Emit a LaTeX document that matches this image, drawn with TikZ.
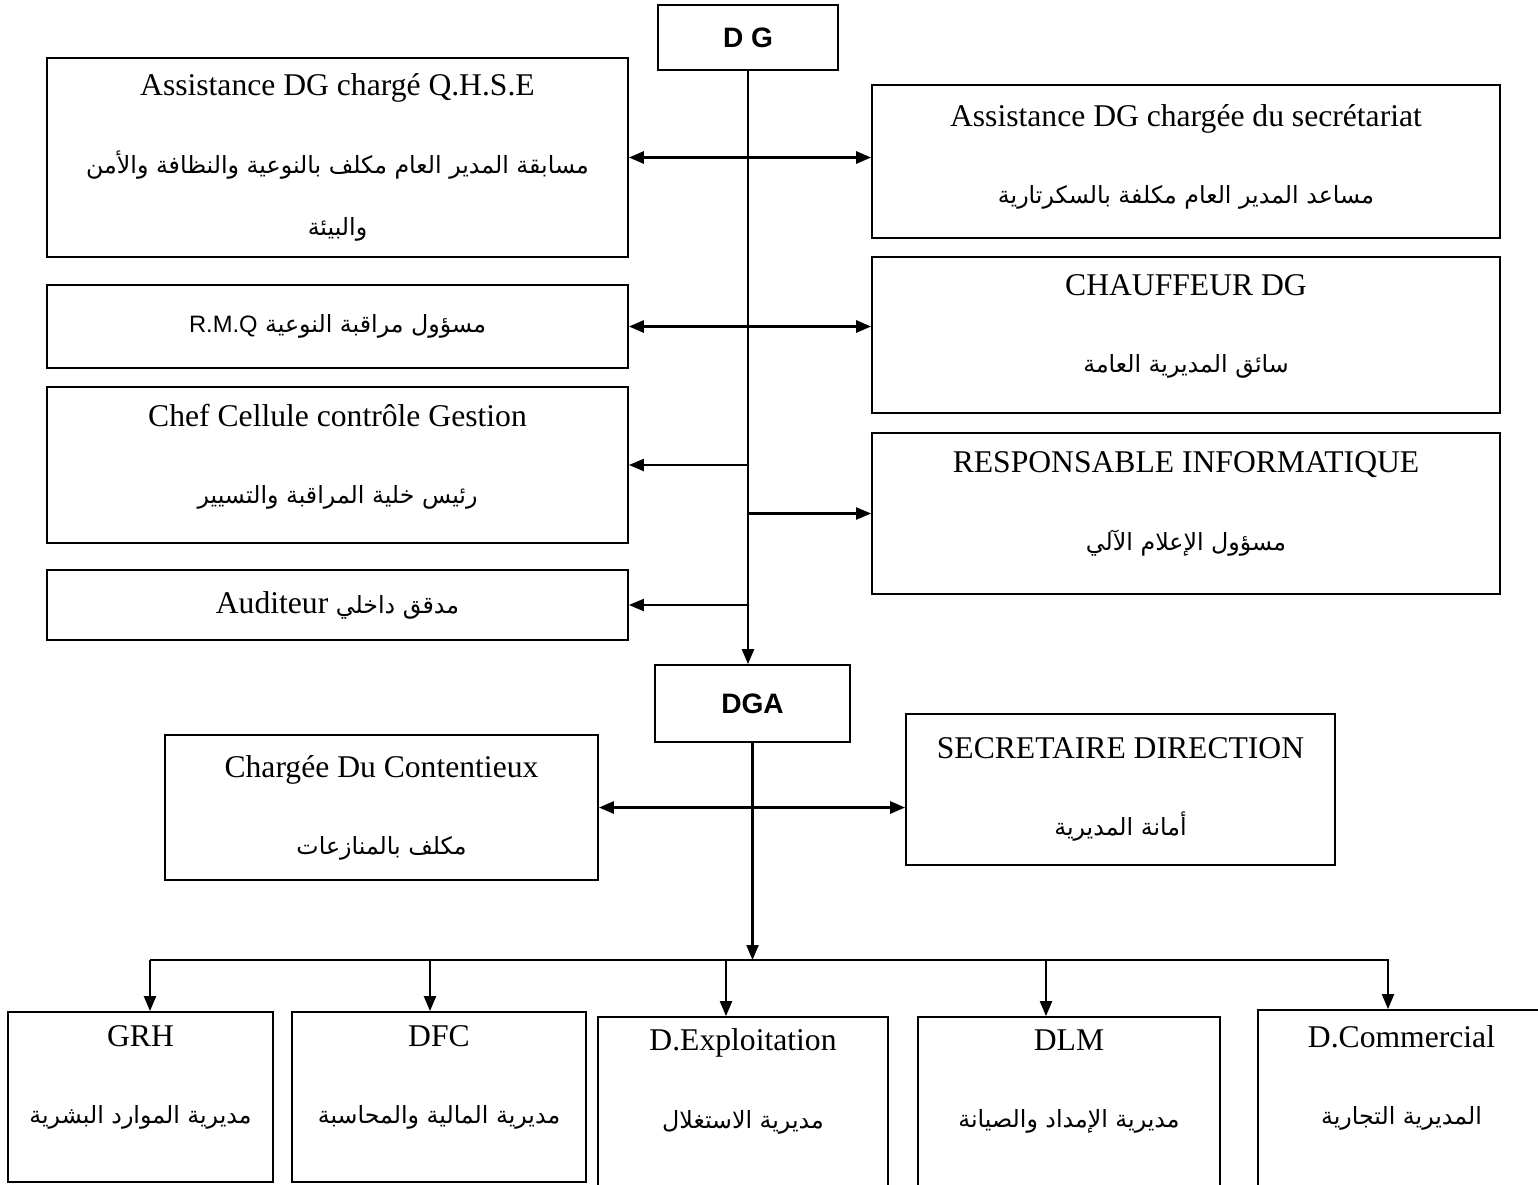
\documentclass[tikz,border=0pt]{standalone}
\usepackage{fontspec}
\setmainfont{Liberation Serif}
\newfontfamily\arfont[Script=Arabic]{DejaVu Sans}
\newfontfamily\hdfont{Liberation Sans}
\TeXXeTstate=1
\usetikzlibrary{arrows.meta}
\newcommand{\artxt}[1]{{\arfont\fontsize{13.5}{22}\selectfont\beginR #1\endR}}

\begin{document}
\begin{tikzpicture}[x=0.02cm, y=-0.02cm,
    box/.style={draw, line width=1pt, inner sep=0pt, align=center, font=\fontsize{18}{22}\selectfont},
    head/.style={box, font=\hdfont\bfseries\fontsize{16}{19}\selectfont},
    sz/.style 2 args={minimum width=#1*0.02cm, minimum height=#2*0.02cm},
    n/.style={-{Triangle[length=0.3cm,width=0.24cm]}, line width=1.2pt},
    d/.style={{Triangle[length=0.3cm,width=0.24cm]}-{Triangle[length=0.3cm,width=0.24cm]}, line width=1.6pt}]
    \useasboundingbox (0,0) rectangle (1538,1184);
    % direction
    \node[head, sz={180}{65}] (dg) at (748,37.5) {D G};
    \node[box, sz={581}{199}] (qhse) at (337.5,157.5) {Assistance DG chargé Q.H.S.E\\[0.77cm] \artxt{مسابقة المدير العام مكلف بالنوعية والنظافة والأمن}\\[0.47cm] \artxt{والبيئة}};
    \node[box, sz={628}{153}, text depth=0.3cm] (secr) at (1186,161.5) {Assistance DG chargée du secrétariat\\[0.77cm] \artxt{مساعد المدير العام مكلفة بالسكرتارية}};
    \node[box, sz={581}{83}] (rmq) at (337.5,326.5) {\artxt{مسؤول مراقبة النوعية \beginL{\hdfont R.M.Q}\endL}};
    \node[box, sz={628}{156}, text depth=0.45cm] (chauf) at (1186,335) {CHAUFFEUR DG\\[0.77cm] \artxt{سائق المديرية العامة}};
    \node[box, sz={581}{156}, text depth=0.45cm] (ccg) at (337.5,465) {Chef Cellule contrôle Gestion\\[0.77cm] \artxt{رئيس خلية المراقبة والتسيير}};
    \node[box, sz={628}{161}, text depth=0.5cm] (info) at (1186,513.5) {RESPONSABLE INFORMATIQUE\\[0.77cm] \artxt{مسؤول الإعلام الآلي}};
    \node[box, sz={581}{70}] (audit) at (337.5,605) {\artxt{مدقق داخلي \beginL{\rmfamily\fontsize{18}{22}\selectfont Auditeur}\endL}};
    \node[head, sz={195}{77}] (dga) at (752.5,703.5) {DGA};
    \node[box, sz={433}{145}] (cont) at (381.5,807.5) {Chargée Du Contentieux\\[0.77cm] \artxt{مكلف بالمنازعات}};
    \node[box, sz={429}{151}] (secd) at (1120.5,789.5) {SECRETAIRE DIRECTION\\[0.77cm] \artxt{أمانة المديرية}};
    % directions
    \node[box, sz={265}{170}, text depth=0.9cm] (grh) at (140.5,1097) {GRH\\[0.77cm] \artxt{مديرية الموارد البشرية}};
    \node[box, sz={294}{170}, text depth=0.9cm] (dfc) at (439,1097) {DFC\\[0.77cm] \artxt{مديرية المالية والمحاسبة}};
    \node[box, sz={290}{183}, text depth=1.2cm] (dexp) at (743,1108.5) {D.Exploitation\\[0.77cm] \artxt{مديرية الاستغلال}};
    \node[box, sz={302}{183}, text depth=1.2cm] (dlm) at (1069,1108.5) {DLM\\[0.77cm] \artxt{مديرية الإمداد والصيانة}};
    \node[box, sz={287}{190}, text depth=1.2cm] (dcom) at (1401.5,1105) {D.Commercial\\[0.77cm] \artxt{المديرية التجارية}};
    \coordinate (b1) at (150,960);
    \coordinate (b2) at (430,960);
    \coordinate (b3) at (726,960);
    \coordinate (b4) at (1046,960);
    \coordinate (b5) at (1388,960);
    % links
    \draw[n] (dg.south) -- (dg.south |- dga.north);
    \draw[d] (qhse.east) -- (qhse.east -| secr.west);
    \draw[d] (rmq.east) -- (rmq.east -| chauf.west);
    \draw[n] (dg.south |- ccg.east) -- (ccg.east);
    \draw[n] (dg.south |- info.west) -- (info.west);
    \draw[n] (dg.south |- audit.east) -- (audit.east);
    \draw[d] (cont.east) -- (cont.east -| secd.west);
    \draw[n] (dga.south) -- (dga.south |- b1);
    \draw[n] (b1) -- (b5) -- (b5 |- dcom.north);
    \draw[n] (b1) -- (b1 |- grh.north);
    \draw[n] (b2) -- (b2 |- dfc.north);
    \draw[n] (b3) -- (b3 |- dexp.north);
    \draw[n] (b4) -- (b4 |- dlm.north);
\end{tikzpicture}
\end{document}
